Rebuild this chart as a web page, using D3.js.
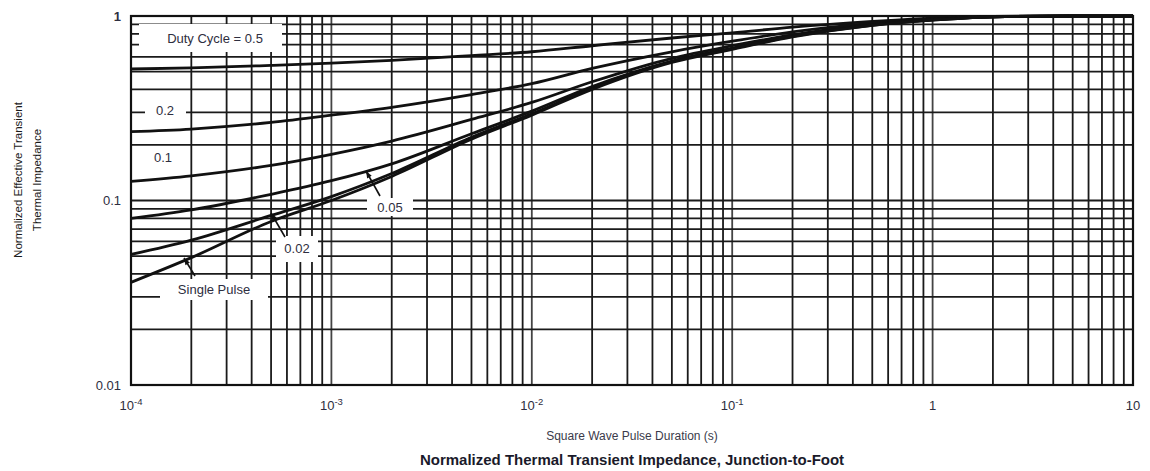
<!DOCTYPE html>
<html><head><meta charset="utf-8">
<script src="https://cdn.jsdelivr.net/npm/d3@7"></script>
<style>body{margin:0;background:#fff}svg{display:block;font-family:"Liberation Sans",Arial,sans-serif}</style>
</head><body><svg id="c" width="1150" height="471"></svg>
<script>
const duration = [1e-4, 2e-4, 5e-4, 1e-3, 2e-3, 5e-3, 1e-2, 2e-2, 5e-2, 0.1, 0.2, 0.5, 1, 2, 5, 10];
const dutyLabels = ["0.5", "0.2", "0.1", "0.05", "0.02", "Single Pulse"];
const duty05 = [0.516, 0.523, 0.54, 0.555, 0.575, 0.61, 0.64, 0.69, 0.76, 0.81, 0.87, 0.935, 0.975, 0.995, 1.0, 1.0];
const duty02 = [0.236, 0.244, 0.265, 0.29, 0.32, 0.375, 0.43, 0.52, 0.64, 0.73, 0.82, 0.915, 0.965, 0.99, 1.0, 1.0];
const duty01 = [0.127, 0.136, 0.155, 0.178, 0.21, 0.275, 0.34, 0.44, 0.59, 0.69, 0.79, 0.90, 0.96, 0.99, 1.0, 1.0];
const duty005 = [0.080, 0.089, 0.108, 0.128, 0.158, 0.23, 0.305, 0.415, 0.57, 0.67, 0.78, 0.895, 0.955, 0.99, 1.0, 1.0];
const duty002 = [0.051, 0.061, 0.083, 0.105, 0.14, 0.22, 0.295, 0.405, 0.565, 0.665, 0.775, 0.89, 0.95, 0.99, 1.0, 1.0];
const singlePulse = [0.036, 0.049, 0.077, 0.100, 0.135, 0.215, 0.29, 0.40, 0.56, 0.66, 0.77, 0.89, 0.95, 0.99, 1.0, 1.0];
const xTickLabels = [[1e-4, "10", "-4"], [1e-3, "10", "-3"], [1e-2, "10", "-2"], [1e-1, "10", "-1"], [1, "1", ""], [10, "10", ""]];
const yTickLabels = [[1, "1"], [0.1, "0.1"], [0.01, "0.01"]];
const xTitle = "Square Wave Pulse Duration (s)";
const yTitle = ["Normalized Effective Transient", "Thermal Impedance"];
const chartTitle = "Normalized Thermal Transient Impedance, Junction-to-Foot";

const series = [duty05, duty02, duty01, duty005, duty002, singlePulse];

const svg = d3.select("#c");
const L = 131, R = 1133, T = 16, B = 385;
const x = d3.scaleLog().domain([1e-4, 10]).range([L, R]);
const y = d3.scaleLog().domain([0.01, 1]).range([B, T]);
const txtCol = "#2e2e40";

// grid
const g = svg.append("g");
const xGrid = [];
for (let e = -4; e < 1; e++) for (let m = 1; m <= 9; m++) xGrid.push(m * Math.pow(10, e));
xGrid.push(10);
const yGrid = [];
for (let e = -2; e < 0; e++) for (let m = 1; m <= 9; m++) yGrid.push(m * Math.pow(10, e));
yGrid.push(1);
g.selectAll("line.v").data(xGrid).join("line")
  .attr("x1", d => x(d)).attr("x2", d => x(d)).attr("y1", T).attr("y2", B)
  .attr("stroke", (d, i) => (i % 9 === 0) ? "#444" : "#1a1a1a").attr("stroke-width", 1.8);
g.selectAll("line.h").data(yGrid).join("line")
  .attr("y1", d => y(d)).attr("y2", d => y(d)).attr("x1", L).attr("x2", R)
  .attr("stroke", "#1a1a1a").attr("stroke-width", 1.8);
svg.append("rect").attr("x", L).attr("y", T).attr("width", R - L).attr("height", B - T)
  .attr("fill", "none").attr("stroke", "#111").attr("stroke-width", 2.2);

// curves
const line = d3.line().x((d, i) => x(duration[i])).y(d => y(d)).curve(d3.curveMonotoneX);
svg.append("g").selectAll("path").data(series).join("path")
  .attr("d", d => line(d)).attr("fill", "none").attr("stroke", "#111").attr("stroke-width", 2.8)
  .attr("stroke-linejoin", "round");

// labels with white boxes
function label(txt, cx, cy, bx0, bx1, by0, by1, size) {
  svg.append("rect").attr("x", bx0).attr("y", by0).attr("width", bx1 - bx0).attr("height", by1 - by0).attr("fill", "#fff");
  svg.append("text").attr("x", cx).attr("y", cy).attr("text-anchor", "middle").attr("dominant-baseline", "central")
    .attr("font-size", size || 12).attr("fill", txtCol).text(txt);
}
function arrow(x1, y1, x2, y2) {
  svg.append("line").attr("x1", x1).attr("y1", y1).attr("x2", x2).attr("y2", y2)
    .attr("stroke", "#111").attr("stroke-width", 1.6);
  const a = Math.atan2(y2 - y1, x2 - x1), s = 7, w = 2.6;
  const p = [[x2, y2],
    [x2 - s * Math.cos(a) + w * Math.sin(a), y2 - s * Math.sin(a) - w * Math.cos(a)],
    [x2 - s * Math.cos(a) - w * Math.sin(a), y2 - s * Math.sin(a) + w * Math.cos(a)]];
  svg.append("path").attr("d", "M" + p.map(q => q.join(",")).join("L") + "Z").attr("fill", "#111");
}
label("Duty Cycle = " + dutyLabels[0], 215, 38, 139, 282, 24, 52, 13);
label(dutyLabels[1], 165, 110, 145, 186, 101, 119, 13);
label(dutyLabels[2], 163, 157, 148, 180, 149, 165, 13);
label(dutyLabels[3], 390, 207, 367, 413, 198, 216, 13);
label(dutyLabels[4], 297, 248, 276, 318, 236, 262, 13);
label(dutyLabels[5], 214, 289, 160, 268, 279, 300, 13);
arrow(380, 196, 366, 171);
arrow(285, 237, 271, 213);
arrow(195, 276, 184, 258);

// axis tick labels
yTickLabels.forEach(([v, t]) => {
  svg.append("text").attr("x", 121).attr("y", y(v)).attr("text-anchor", "end").attr("dominant-baseline", "central")
    .attr("font-size", 13).attr("fill", txtCol).attr("font-weight", v === 1 ? "bold" : "normal").text(t);
});
xTickLabels.forEach(([v, b, e]) => {
  const t = svg.append("text").attr("x", x(v)).attr("y", 410).attr("text-anchor", "middle")
    .attr("font-size", 13).attr("fill", txtCol);
  t.append("tspan").text(b);
  if (e) t.append("tspan").attr("dy", -5).attr("font-size", 9.5).text(e);
});
svg.append("text").attr("x", 632).attr("y", 440).attr("text-anchor", "middle").attr("font-size", 12)
  .attr("fill", "#3a3a4a").text(xTitle);
svg.append("text").attr("x", 632).attr("y", 465).attr("text-anchor", "middle").attr("font-size", 15)
  .attr("font-weight", "bold").attr("fill", "#1a1a2a").text(chartTitle);
yTitle.forEach((t, i) => {
  svg.append("text").attr("transform", `translate(${22 + i * 19},180) rotate(-90)`).attr("text-anchor", "middle")
    .attr("font-size", 11.5).attr("fill", "#1a1a1a").text(t);
});
</script></body></html>
